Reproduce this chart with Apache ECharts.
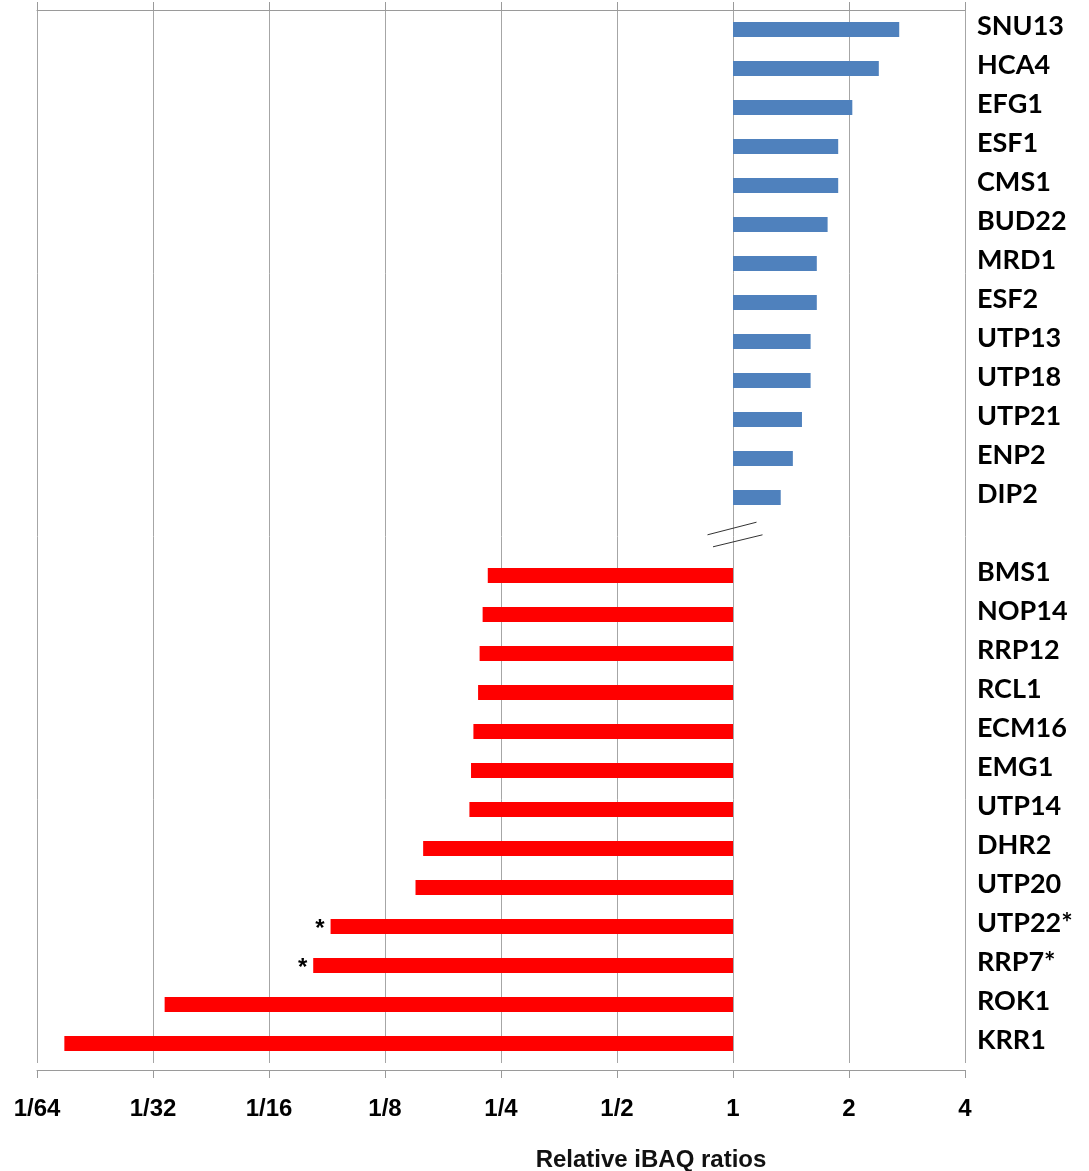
<!DOCTYPE html>
<html>
<head>
<meta charset="utf-8">
<script src="https://cdn.jsdelivr.net/npm/echarts@6/dist/echarts.min.js"></script>
<style>
  html, body { margin: 0; padding: 0; background: #ffffff; }
  #chart { width: 1089px; height: 1171px; }
</style>
</head>
<body>
<div id="chart"></div>
<script>
// Proteins enriched (blue) and depleted (red), relative iBAQ ratios
const upProteins = ['SNU13', 'HCA4', 'EFG1', 'ESF1', 'CMS1', 'BUD22', 'MRD1', 'ESF2', 'UTP13', 'UTP18', 'UTP21', 'ENP2', 'DIP2'];
const upRatios = [2.70, 2.39, 2.04, 1.875, 1.875, 1.76, 1.65, 1.65, 1.59, 1.59, 1.51, 1.43, 1.33];

const downProteins = ['BMS1', 'NOP14', 'RRP12', 'RCL1', 'ECM16', 'EMG1', 'UTP14', 'DHR2', 'UTP20', 'UTP22*', 'RRP7*', 'ROK1', 'KRR1'];
const downRatios = [0.231, 0.224, 0.220, 0.218, 0.212, 0.209, 0.207, 0.157, 0.150, 0.0903, 0.0814, 0.0335, 0.0184];

// Proteins flagged with an asterisk next to their bar
const starred = ['UTP22*', 'RRP7*'];

// Axis tick values (log base 2)
const tickMin = 1 / 64;
const tickMax = 4;

// Category list with an empty slot separating the two groups
const categories = upProteins.concat([''], downProteins);
const upData = upRatios.concat(new Array(1 + downProteins.length).fill('-'));
const downData = new Array(upProteins.length + 1).fill('-').concat(
  downRatios.map((v, i) => ({
    value: v,
    label: { show: starred.indexOf(downProteins[i]) >= 0 }
  }))
);

function ratioLabel(v) {
  const e = Math.round(Math.log2(v));
  return e >= 0 ? String(Math.pow(2, e)) : '1/' + Math.pow(2, -e);
}

const gridColor = '#a6a6a6';
const axisColor = '#9a9a9a';

const chart = echarts.init(document.getElementById('chart'));
const option = {
  backgroundColor: '#ffffff',
  animation: false,
  grid: {
    left: 37, right: 124, top: 10, bottom: 108,
    containLabel: false,
    outerBoundsMode: 'none'
  },
  xAxis: [
    {
      type: 'log',
      logBase: 2,
      min: tickMin,
      max: tickMax,
      interval: 1,
      position: 'bottom',
      offset: 7,
      name: 'Relative iBAQ ratios',
      nameLocation: 'middle',
      nameGap: 78,
      nameTextStyle: {
        fontFamily: 'Liberation Sans, Arial, sans-serif',
        fontWeight: 'bold',
        fontSize: 24,
        color: '#111',
        padding: [0, 0, 0, 300]
      },
      axisLine: { show: true, lineStyle: { color: axisColor, width: 1 } },
      axisTick: { show: true, length: 8, lineStyle: { color: axisColor } },
      axisLabel: {
        formatter: ratioLabel,
        margin: 27,
        fontFamily: 'Liberation Sans, Arial, sans-serif',
        fontWeight: 'bold',
        fontSize: 24,
        color: '#000'
      },
      splitLine: { show: true, lineStyle: { color: gridColor, width: 1 } },
      minorTick: { show: false },
      minorSplitLine: { show: false }
    },
    {
      type: 'log',
      logBase: 2,
      min: tickMin,
      max: tickMax,
      interval: 1,
      position: 'top',
      axisLine: { show: true, lineStyle: { color: axisColor, width: 1 } },
      axisTick: { show: true, length: 8, lineStyle: { color: axisColor } },
      axisLabel: { show: false },
      splitLine: { show: false }
    }
  ],
  yAxis: {
    type: 'category',
    data: categories,
    inverse: true,
    position: 'right',
    axisLine: { show: false },
    axisTick: { show: false },
    splitLine: { show: false },
    axisLabel: {
      margin: 12,
      fontFamily: 'Lato, sans-serif',
      fontWeight: 'bold',
      fontSize: 27,
      color: '#000',
      align: 'left',
      verticalAlign: 'bottom',
      lineHeight: 7
    }
  },
  series: [
    {
      name: 'up',
      type: 'bar',
      data: upData,
      barWidth: 15,
      barGap: '-100%',
      itemStyle: { color: '#4f81bd' }
    },
    {
      name: 'down',
      type: 'bar',
      data: downData,
      barWidth: 15,
      barGap: '-100%',
      itemStyle: { color: '#ff0000' },
      label: {
        show: false,
        position: 'left',
        distance: 6,
        formatter: '*',
        fontFamily: 'Liberation Sans, Arial, sans-serif',
        fontWeight: 'bold',
        fontSize: 24,
        color: '#000',
        offset: [0, 3]
      }
    }
  ]
};
chart.setOption(option);

// Axis break marks in the empty slot between the two groups
const gapIndex = upProteins.length;
const c = chart.convertToPixel({ gridIndex: 0 }, [1, gapIndex]);
const cx = c[0], cy = c[1];
chart.setOption({
  graphic: [
    {
      type: 'line',
      shape: { x1: cx - 25.5, y1: cy - 1.7, x2: cx + 23.5, y2: cy - 14.3 },
      style: { stroke: '#333', lineWidth: 1 },
      z: 100
    },
    {
      type: 'line',
      shape: { x1: cx - 20, y1: cy + 10.3, x2: cx + 29.5, y2: cy - 1.7 },
      style: { stroke: '#333', lineWidth: 1 },
      z: 100
    }
  ]
});
</script>
</body>
</html>
